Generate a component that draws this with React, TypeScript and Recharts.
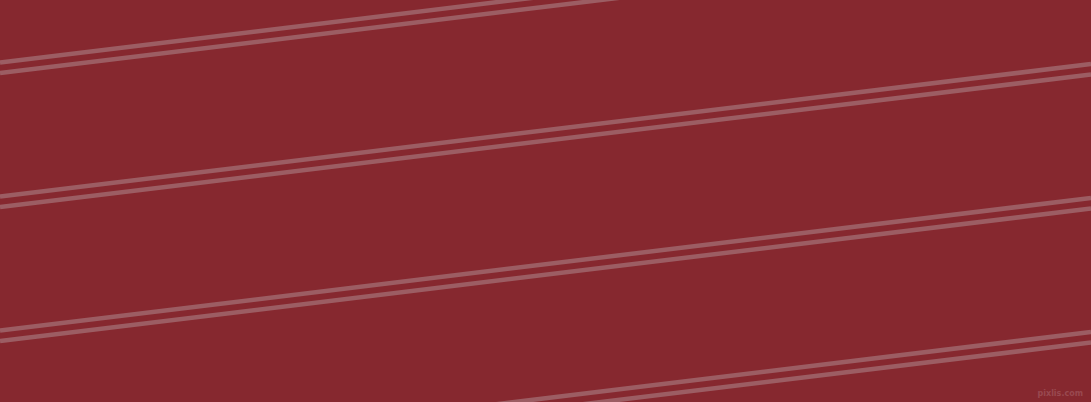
import React from "react";
import { ComposedChart, Line, XAxis, YAxis } from "recharts";

// x of the left and right picture edges
const edgeX = [0, 1091];

// upper stroke of each double line: y at left edge / right edge
const upperLeft = [62.5, 196.5, 330.5, 464.5];
const upperRight = [-70, 64, 198, 332];

// lower stroke of each double line
const lowerLeft = [73, 207, 341, 475];
const lowerRight = [-59.5, 74.5, 208.5, 342.5];

const data = edgeX.map((x, i) => {
  const row: Record<string, number> = { x };
  upperLeft.forEach((_, k) => {
    row[`u${k}`] = i === 0 ? upperLeft[k] : upperRight[k];
    row[`l${k}`] = i === 0 ? lowerLeft[k] : lowerRight[k];
  });
  return row;
});

const keys = upperLeft.flatMap((_, k) => [`u${k}`, `l${k}`]);

export default function App() {
  return (
    <div
      style={{
        position: "fixed",
        left: 0,
        top: 0,
        width: 1091,
        height: 402,
        background: "#86282f",
        overflow: "hidden",
      }}
    >
      <ComposedChart
        width={1091}
        height={402}
        data={data}
        margin={{ top: 0, right: 0, bottom: 0, left: 0 }}
      >
        <XAxis dataKey="x" type="number" domain={[0, 1091]} hide />
        <YAxis type="number" domain={[0, 402]} reversed allowDataOverflow hide />
        {keys.map((k) => (
          <Line
            key={k}
            dataKey={k}
            stroke="#9c5d63"
            strokeWidth={4.5}
            dot={false}
            activeDot={false}
            isAnimationActive={false}
          />
        ))}
      </ComposedChart>
      <div
        style={{
          position: "absolute",
          right: 8,
          bottom: 3,
          fontFamily: "DejaVu Sans, sans-serif",
          fontSize: 8,
          fontWeight: "bold",
          color: "#994850",
          lineHeight: "10px",
        }}
      >
        pixlis.com
      </div>
    </div>
  );
}
